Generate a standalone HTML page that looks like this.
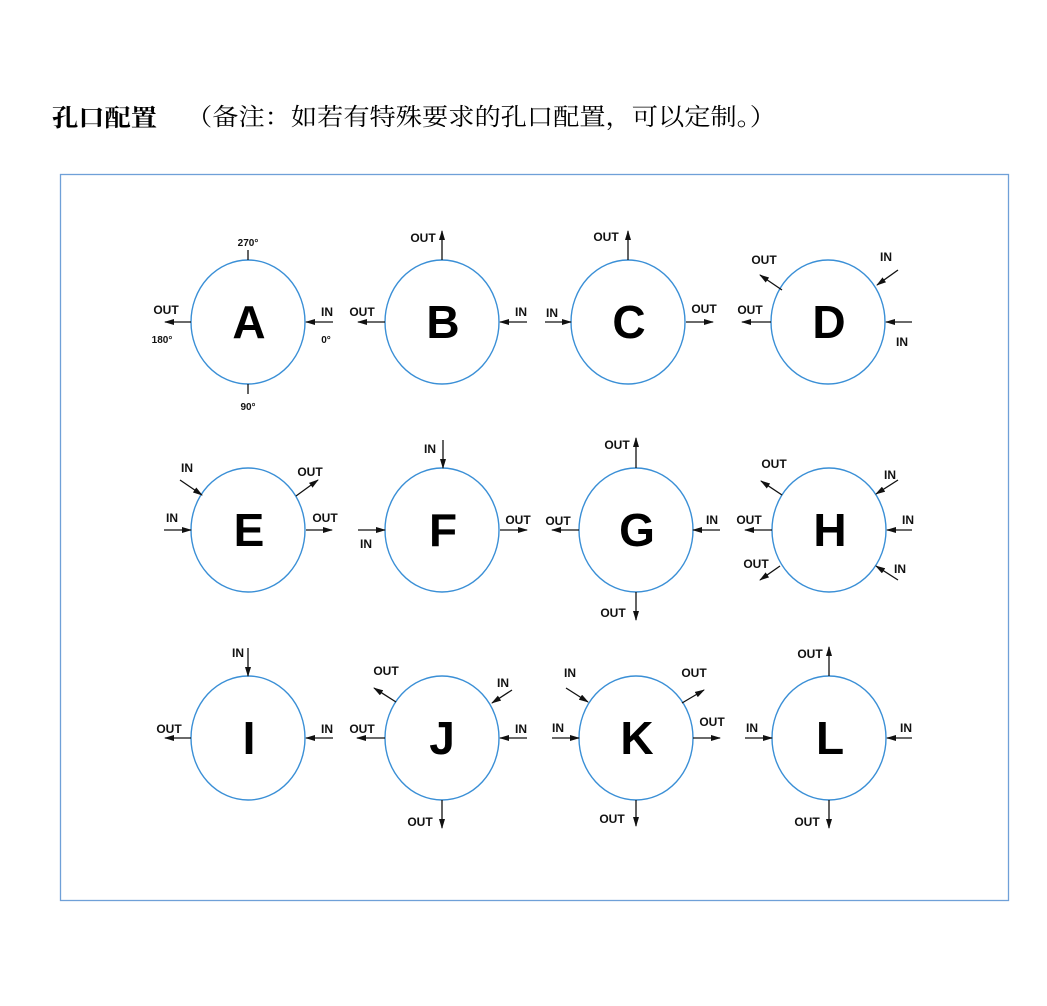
<!DOCTYPE html>
<html><head><meta charset="utf-8"><style>
html,body{margin:0;padding:0;background:#fff;width:1047px;height:1006px;overflow:hidden}
svg{display:block}
.l{font-family:"Liberation Sans",Arial,sans-serif;font-weight:bold;font-size:12px;fill:#111;text-anchor:middle}
.s{font-size:10px}
.big{font-family:"Liberation Sans",Arial,sans-serif;font-weight:bold;font-size:46px;fill:#000;text-anchor:middle}
ellipse{fill:none;stroke:#3a8fd6;stroke-width:1.4}
.a{stroke:#111;stroke-width:1.3;marker-end:url(#ah)}
.t{stroke:#111;stroke-width:1.3}
</style></head><body>
<svg width="1047" height="1006" viewBox="0 0 1047 1006" xmlns="http://www.w3.org/2000/svg">
<defs><marker id="ah" markerWidth="10" markerHeight="6" refX="9" refY="3" orient="auto" markerUnits="userSpaceOnUse"><path d="M0,0 L10,3 L0,6 Z" fill="#111"/></marker></defs>
<text x="52" y="126" font-family="'Noto Serif CJK SC',serif" font-weight="bold" font-size="24" textLength="105" lengthAdjust="spacingAndGlyphs">孔口配置</text>
<text x="186" y="125" font-family="'Noto Serif CJK SC',serif" font-size="24" textLength="590" lengthAdjust="spacingAndGlyphs">（备注：如若有特殊要求的孔口配置，可以定制。）</text>
<rect x="60.5" y="174.5" width="948" height="726" fill="none" stroke="#6fa0d8" stroke-width="1.3"/>

<!-- A -->
<ellipse cx="248" cy="322" rx="57" ry="62"/><text class="big" x="249" y="338">A</text>
<line class="t" x1="248" y1="250" x2="248" y2="260"/><text class="l s" x="248" y="246">270°</text>
<line class="t" x1="248" y1="384" x2="248" y2="394"/><text class="l s" x="248" y="410">90°</text>
<line class="a" x1="191" y1="322" x2="165" y2="322"/><text class="l" x="166" y="314">OUT</text><text class="l s" x="162" y="343">180°</text>
<line class="a" x1="333" y1="322" x2="306" y2="322"/><text class="l" x="327" y="316">IN</text><text class="l s" x="326" y="343">0°</text>
<!-- B -->
<ellipse cx="442" cy="322" rx="57" ry="62"/><text class="big" x="443" y="338">B</text>
<line class="a" x1="442" y1="260" x2="442" y2="231"/><text class="l" x="423" y="242">OUT</text>
<line class="a" x1="385" y1="322" x2="358" y2="322"/><text class="l" x="362" y="316">OUT</text>
<line class="a" x1="527" y1="322" x2="500" y2="322"/><text class="l" x="521" y="316">IN</text>
<!-- C -->
<ellipse cx="628" cy="322" rx="57" ry="62"/><text class="big" x="629" y="338">C</text>
<line class="a" x1="628" y1="260" x2="628" y2="231"/><text class="l" x="606" y="241">OUT</text>
<line class="a" x1="545" y1="322" x2="571" y2="322"/><text class="l" x="552" y="317">IN</text>
<line class="a" x1="686" y1="322" x2="713" y2="322"/><text class="l" x="704" y="313">OUT</text>
<!-- D -->
<ellipse cx="828" cy="322" rx="57" ry="62"/><text class="big" x="829" y="338">D</text>
<line class="a" x1="898" y1="270" x2="877" y2="285"/><text class="l" x="886" y="261">IN</text>
<line class="a" x1="912" y1="322" x2="886" y2="322"/><text class="l" x="902" y="346">IN</text>
<line class="a" x1="782" y1="290" x2="760" y2="275"/><text class="l" x="764" y="264">OUT</text>
<line class="a" x1="771" y1="322" x2="742" y2="322"/><text class="l" x="750" y="314">OUT</text>
<!-- E -->
<ellipse cx="248" cy="530" rx="57" ry="62"/><text class="big" x="249" y="546">E</text>
<line class="a" x1="180" y1="480" x2="202" y2="495"/><text class="l" x="187" y="472">IN</text>
<line class="a" x1="164" y1="530" x2="191" y2="530"/><text class="l" x="172" y="522">IN</text>
<line class="a" x1="296" y1="496" x2="318" y2="480"/><text class="l" x="310" y="476">OUT</text>
<line class="a" x1="306" y1="530" x2="332" y2="530"/><text class="l" x="325" y="522">OUT</text>
<!-- F -->
<ellipse cx="442" cy="530" rx="57" ry="62"/><text class="big" x="443" y="546">F</text>
<line class="a" x1="443" y1="440" x2="443" y2="468"/><text class="l" x="430" y="453">IN</text>
<line class="a" x1="358" y1="530" x2="385" y2="530"/><text class="l" x="366" y="548">IN</text>
<line class="a" x1="500" y1="530" x2="527" y2="530"/><text class="l" x="518" y="524">OUT</text>
<!-- G -->
<ellipse cx="636" cy="530" rx="57" ry="62"/><text class="big" x="637" y="546">G</text>
<line class="a" x1="636" y1="468" x2="636" y2="438"/><text class="l" x="617" y="449">OUT</text>
<line class="a" x1="579" y1="530" x2="552" y2="530"/><text class="l" x="558" y="525">OUT</text>
<line class="a" x1="720" y1="530" x2="693" y2="530"/><text class="l" x="712" y="524">IN</text>
<line class="a" x1="636" y1="592" x2="636" y2="620"/><text class="l" x="613" y="617">OUT</text>
<!-- H -->
<ellipse cx="829" cy="530" rx="57" ry="62"/><text class="big" x="830" y="546">H</text>
<line class="a" x1="782" y1="495" x2="761" y2="481"/><text class="l" x="774" y="468">OUT</text>
<line class="a" x1="772" y1="530" x2="745" y2="530"/><text class="l" x="749" y="524">OUT</text>
<line class="a" x1="780" y1="566" x2="760" y2="580"/><text class="l" x="756" y="568">OUT</text>
<line class="a" x1="898" y1="480" x2="876" y2="494"/><text class="l" x="890" y="479">IN</text>
<line class="a" x1="912" y1="530" x2="887" y2="530"/><text class="l" x="908" y="524">IN</text>
<line class="a" x1="898" y1="580" x2="876" y2="566"/><text class="l" x="900" y="573">IN</text>
<!-- I -->
<ellipse cx="248" cy="738" rx="57" ry="62"/><text class="big" x="249" y="754">I</text>
<line class="a" x1="248" y1="648" x2="248" y2="676"/><text class="l" x="238" y="657">IN</text>
<line class="a" x1="191" y1="738" x2="165" y2="738"/><text class="l" x="169" y="733">OUT</text>
<line class="a" x1="333" y1="738" x2="306" y2="738"/><text class="l" x="327" y="733">IN</text>
<!-- J -->
<ellipse cx="442" cy="738" rx="57" ry="62"/><text class="big" x="442" y="754">J</text>
<line class="a" x1="396" y1="702" x2="374" y2="688"/><text class="l" x="386" y="675">OUT</text>
<line class="a" x1="512" y1="690" x2="492" y2="703"/><text class="l" x="503" y="687">IN</text>
<line class="a" x1="385" y1="738" x2="357" y2="738"/><text class="l" x="362" y="733">OUT</text>
<line class="a" x1="527" y1="738" x2="500" y2="738"/><text class="l" x="521" y="733">IN</text>
<line class="a" x1="442" y1="800" x2="442" y2="828"/><text class="l" x="420" y="826">OUT</text>
<!-- K -->
<ellipse cx="636" cy="738" rx="57" ry="62"/><text class="big" x="637" y="754">K</text>
<line class="a" x1="566" y1="688" x2="588" y2="702"/><text class="l" x="570" y="677">IN</text>
<line class="a" x1="682" y1="703" x2="704" y2="690"/><text class="l" x="694" y="677">OUT</text>
<line class="a" x1="552" y1="738" x2="579" y2="738"/><text class="l" x="558" y="732">IN</text>
<line class="a" x1="693" y1="738" x2="720" y2="738"/><text class="l" x="712" y="726">OUT</text>
<line class="a" x1="636" y1="800" x2="636" y2="826"/><text class="l" x="612" y="823">OUT</text>
<!-- L -->
<ellipse cx="829" cy="738" rx="57" ry="62"/><text class="big" x="830" y="754">L</text>
<line class="a" x1="829" y1="676" x2="829" y2="647"/><text class="l" x="810" y="658">OUT</text>
<line class="a" x1="745" y1="738" x2="772" y2="738"/><text class="l" x="752" y="732">IN</text>
<line class="a" x1="912" y1="738" x2="887" y2="738"/><text class="l" x="906" y="732">IN</text>
<line class="a" x1="829" y1="800" x2="829" y2="828"/><text class="l" x="807" y="826">OUT</text>
</svg>
</body></html>
